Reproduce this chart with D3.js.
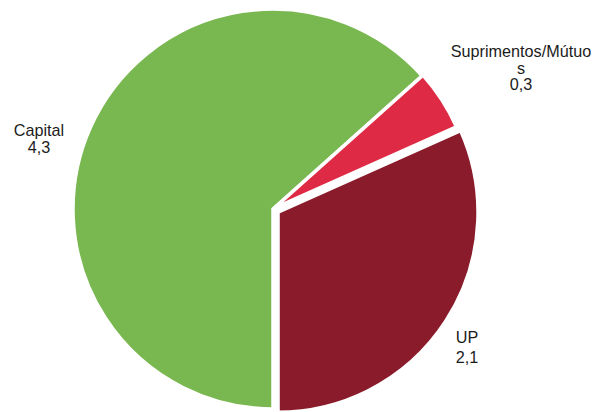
<!DOCTYPE html>
<html><head><meta charset="utf-8">
<script src="https://cdn.jsdelivr.net/npm/d3@7"></script>
<style>body{margin:0;background:#fff}svg{display:block}</style>
</head><body>
<svg id="c" width="594" height="412"></svg>
<script>
const categories = ["Capital", "Suprimentos/Mútuos", "UP"];
const values = [4.26, 0.33, 2.13];
const valueLabels = ["4,3", "0,3", "2,1"];
const labelLines = [["Capital"], ["Suprimentos/Mútuo", "s"], ["UP"]];
const colors = ["#79b850", "#de2a44", "#8a1b2b"];
const explode = [0, 1, 6];
const labelPos = [[39, 136], [521, 57], [467, 343]];
const lineGap = [16.5, 16.5, 20];

const svg = d3.select("#c");
const cx = 273, cy = 209, r = 200;
const pie = d3.pie().sort(null).value(d => d).startAngle(Math.PI).endAngle(3 * Math.PI);
const arcs = pie(values);
const arc = d3.arc().innerRadius(0).outerRadius(r);
const g = svg.append("g").attr("transform", `translate(${cx},${cy})`);
g.selectAll("path").data(arcs).join("path")
  .attr("d", arc)
  .attr("fill", (d, i) => colors[i])
  .attr("stroke", "#fff").attr("stroke-width", 3.5).attr("stroke-linejoin", "miter")
  .attr("transform", (d, i) => {
    const a = (d.startAngle + d.endAngle) / 2;
    return `translate(${Math.sin(a) * explode[i]},${-Math.cos(a) * explode[i]})`;
  });

labelPos.forEach((p, i) => {
  const t = svg.append("text").attr("text-anchor", "middle")
    .attr("font-family", "Liberation Sans, Arial, sans-serif").attr("font-size", 16.2).attr("fill", "#1c1c1c");
  const lines = labelLines[i].concat([valueLabels[i]]);
  lines.forEach((l, j) => {
    t.append("tspan").attr("x", p[0]).attr("y", p[1] + j * lineGap[i]).text(l);
  });
});
</script>
</body></html>
